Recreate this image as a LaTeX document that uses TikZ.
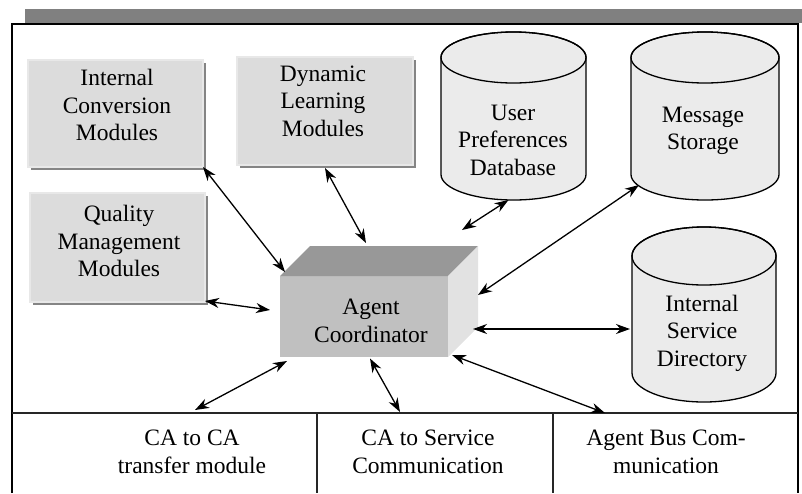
\documentclass[tikz,border=0pt]{standalone}
\usepackage{fontspec}
\setmainfont{Liberation Serif}
\usetikzlibrary{arrows.meta,calc,shadows}
\definecolor{boxfill}{HTML}{DCDCDC}
\definecolor{boxedge}{HTML}{E8E8E8}
\definecolor{shadowgray}{HTML}{858585}
\definecolor{cylfill}{HTML}{EBEBEB}
\definecolor{barfill}{HTML}{808080}
\definecolor{acfront}{HTML}{C0C0C0}
\definecolor{actop}{HTML}{989898}
\definecolor{acside}{HTML}{E2E2E2}
\begin{document}
\begin{tikzpicture}[x=1pt,y=-1pt,
  txt/.style={align=center,font=\fontsize{23.5}{27.5}\selectfont,inner sep=0pt},
  modbox/.style={rectangle,outer sep=0pt,inner sep=0pt,fill=boxfill,draw=boxedge,line width=1.2pt,
    drop shadow={shadow xshift=3pt,shadow yshift=-3pt,fill=shadowgray,opacity=1}},
  area/.style={rectangle,outer sep=0pt,inner sep=0pt,draw=none},
  cyl/.style={fill=cylfill,draw=black,line width=1.3pt},
  frame/.style={draw=black,line width=2pt},
  sep/.style={draw=black!85,line width=1.4pt},
  link/.style={{Stealth[length=14pt,width=10pt,inset=4.5pt]}-{Stealth[length=14pt,width=10pt,inset=4.5pt]},line width=1.3pt}]
\useasboundingbox (0,0) rectangle (802,493);

% top bar and frame
\fill[barfill] (25,9) rectangle (802,23);
\draw[frame] (12,493) -- (12,24) -- (798,24) -- (798,493);
\draw[sep] (12,413) -- (798,413);
\draw[sep] (317,413) -- (317,493);
\draw[sep] (553,413) -- (553,493);

% bottom cells
\node[area,minimum width=305,minimum height=80] (c1) at (164.5,453) {};
\node[area,minimum width=236,minimum height=80] (c2) at (435,453) {};
\node[area,minimum width=245,minimum height=80] (c3) at (675.5,453) {};
\node[txt] (c1t) at (192,452) {CA to CA\\transfer module};
\node[txt] (c2t) at (428,452) {CA to Service\\Communication};
\node[txt] (c3t) at (666,452) {Agent Bus Com-\\munication};

% module boxes
\node[modbox,minimum width=175,minimum height=107] (icm) at (115.5,113.5) {};
\node[txt] (icmt) at (117,105) {Internal\\Conversion\\Modules};
\node[modbox,minimum width=176,minimum height=108] (dlm) at (325,111) {};
\node[txt] (dlmt) at (323,101) {Dynamic\\Learning\\Modules};
\node[modbox,minimum width=175,minimum height=109] (qmm) at (117.5,247.5) {};
\node[txt] (qmmt) at (119,241) {Quality\\Management\\Modules};

% cylinders
\node[area,minimum width=145,minimum height=168] (ups) at (513.5,116) {};
\path[cyl] (441,57.5) -- (441,174.5) arc[start angle=180,end angle=0,x radius=72.5,y radius=25.5]
  -- (586,57.5) arc[start angle=0,end angle=-180,x radius=72.5,y radius=25.5] -- cycle;
\draw[line width=1.3pt] (513.5,57.5) ellipse[x radius=72.5,y radius=25.5];
\node[txt] (upst) at (513,140) {User\\Preferences\\Database};

\node[area,minimum width=148,minimum height=168] (ms) at (705,116) {};
\path[cyl] (631,57.5) -- (631,174.5) arc[start angle=180,end angle=0,x radius=74,y radius=25.5]
  -- (779,57.5) arc[start angle=0,end angle=-180,x radius=74,y radius=25.5] -- cycle;
\draw[line width=1.3pt] (705,57.5) ellipse[x radius=74,y radius=25.5];
\node[txt] (mst) at (703,131) {Message\\Storage};

\node[area,minimum width=144,minimum height=175] (isd) at (704,314.5) {};
\path[cyl] (632,256) -- (632,373) arc[start angle=180,end angle=0,x radius=72,y radius=29]
  -- (776,256) arc[start angle=0,end angle=-180,x radius=72,y radius=29] -- cycle;
\draw[line width=1.3pt] (704,256) ellipse[x radius=72,y radius=29];
\node[txt] (isdt) at (702,333) {Internal\\Service\\Directory};

% agent coordinator (3D box)
\node[area,fill=acfront,minimum width=168,minimum height=81] (ac) at (364,316.5) {};
\fill[actop] (ac.north west) -- ++(30,-30) -- ++(168,0) -- (ac.north east) -- cycle;
\fill[acside] (ac.north east) -- ++(30,-30) -- ++(0,81) -- (ac.south east) -- cycle;
\node[txt] (act) at (371,321) {Agent\\Coordinator};

% connectors
\draw[link] (icm.south east) -- ($(ac.north west)+(5,-4)$);
\draw[link] ($(dlm.south)+(0,3)$) -- ($(ac.north)+(2,-33)$);
\draw[link] ($(ups.south)+(-5,0)$) -- ($(ac.north east)+(14,-46)$);
\draw[link] ($(ms.south west)+(8,-15)$) -- ($(ac.east)+(30,-21.5)$);
\draw[link] ($(isd.west)+(-2,14.5)$) -- ($(ac.east)+(25,12.5)$);
\draw[link] ($(qmm.south east)+(0,-1)$) -- ($(ac.west)+(-10,-6.5)$);
\draw[link] ($(c1.north west)+(183,-3)$) -- ($(ac.south west)+(7,4)$);
\draw[link] ($(c2.north west)+(83,-1)$) -- ($(ac.south)+(6,1.5)$);
\draw[link] ($(c3.north west)+(52,0)$) -- ($(ac.south east)+(4,-2)$);
\end{tikzpicture}
\end{document}
